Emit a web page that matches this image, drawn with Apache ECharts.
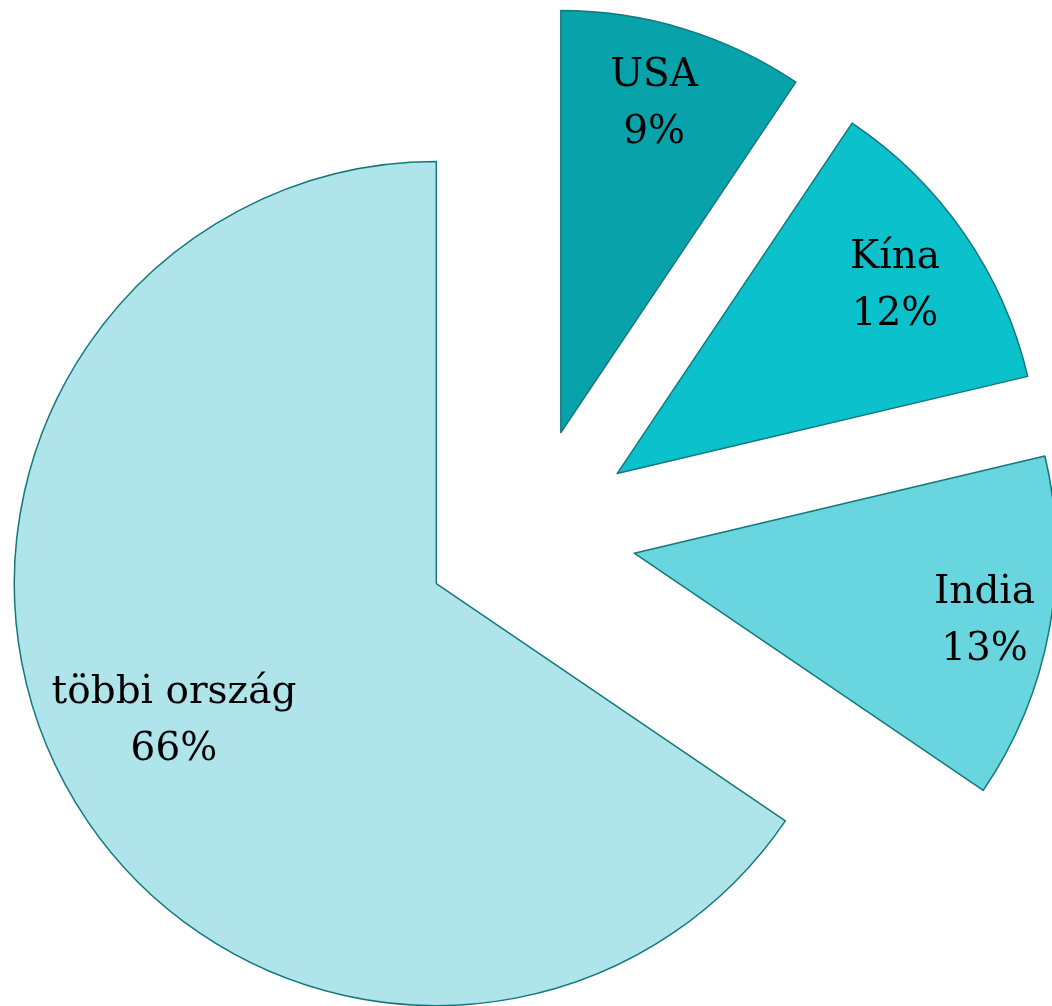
<!DOCTYPE html>
<html>
<head>
<meta charset="utf-8">
<script src="https://cdn.jsdelivr.net/npm/echarts@6/dist/echarts.min.js"></script>
<style>
html,body{margin:0;padding:0;background:#fff;}
#chart{width:1052px;height:1006px;}
</style>
</head>
<body>
<div id="chart"></div>
<script>
// Data
const categories = ['USA', 'Kína', 'India', 'többi ország'];
const shares = [9.4, 11.9, 13.2, 65.5];
const colors = ['#08A2AA', '#0BC1CB', '#69D6DF', '#AEE4EA'];

// Styling (label nudges, px)
const labelNudges = [[-8, 5], [-8, 11], [8, 5], [1, -2]];

const CENTER = [530, 534];
const R = 422;
const OFFSET = 106;
const BORDER = '#12787D';
const FONT = 'DejaVu Serif';

function pctLabel(p) {
  return p.name + '\n' + Math.round(p.percent) + '%';
}

const mainData = categories.map((c, i) => ({
  name: c, value: shares[i], selected: true,
  itemStyle: { color: colors[i] }
}));

function ghostData(showIdx) {
  return categories.map((c, i) => ({
    name: c, value: shares[i], selected: true,
    label: { show: showIdx.indexOf(i) >= 0 }
  }));
}

const labelStyle = {
  show: true, position: 'inside', formatter: pctLabel,
  color: '#000', fontFamily: FONT, fontSize: 39, lineHeight: 57,
  align: 'center', verticalAlign: 'middle'
};

const ghostBase = {
  type: 'pie', center: CENTER, startAngle: 90, clockwise: true,
  selectedMode: 'multiple', selectedOffset: OFFSET, silent: true,
  avoidLabelOverlap: false, z: 5,
  itemStyle: { color: 'rgba(0,0,0,0)', borderWidth: 0 },
  select: { itemStyle: { color: 'rgba(0,0,0,0)', borderWidth: 0 } },
  emphasis: { disabled: true },
  labelLine: { show: false },
  label: labelStyle,
  labelLayout: function (p) {
    const n = labelNudges[p.dataIndex];
    return { dx: n[0], dy: n[1] };
  }
};

const option = {
  animation: false,
  backgroundColor: '#ffffff',
  series: [
    {
      type: 'pie', center: CENTER, radius: [0, R], startAngle: 90, clockwise: true,
      selectedMode: 'multiple', selectedOffset: OFFSET, silent: true, z: 2,
      itemStyle: { borderColor: BORDER, borderWidth: 1.5 },
      select: { itemStyle: { borderColor: BORDER, borderWidth: 1.5 } },
      emphasis: { disabled: true },
      label: { show: false }, labelLine: { show: false },
      data: mainData
    },
    Object.assign({}, ghostBase, { radius: [0, 690], data: ghostData([0, 1, 2]) }),
    Object.assign({}, ghostBase, { radius: [0, 590], data: ghostData([3]) })
  ]
};

const chart = echarts.init(document.getElementById('chart'), null, { renderer: 'canvas' });
chart.setOption(option);
</script>
</body>
</html>
